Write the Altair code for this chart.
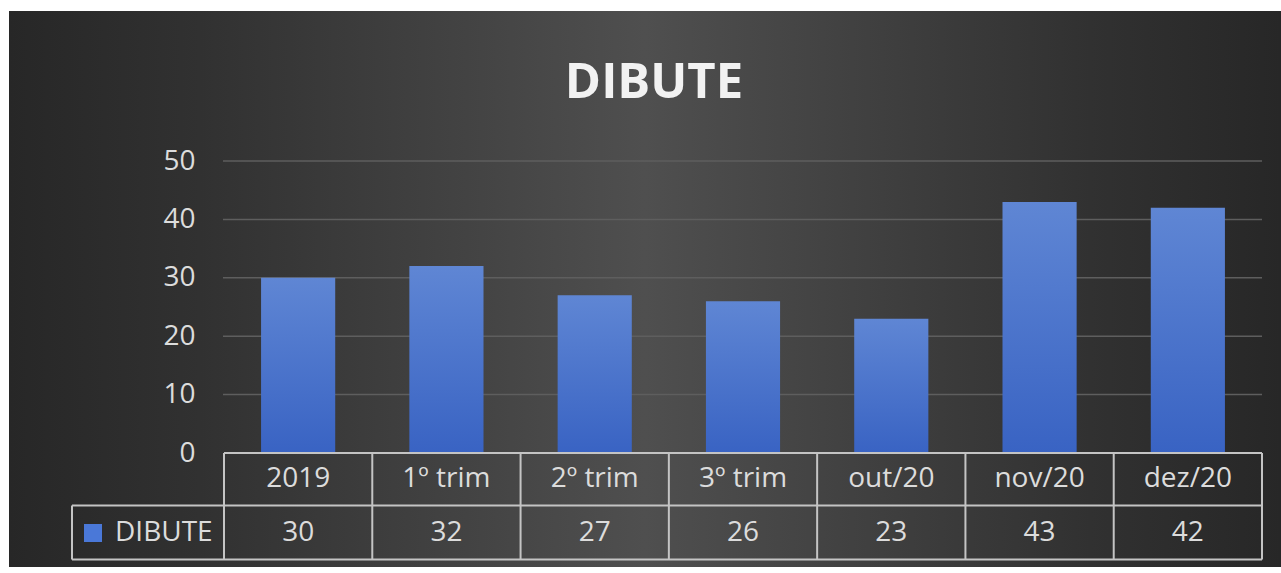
import altair as alt
import pandas as pd

# ---- data ----
categories = ["2019", "1º trim", "2º trim", "3º trim", "out/20", "nov/20", "dez/20"]
values = [30, 32, 27, 26, 23, 43, 42]
series_name = "DIBUTE"
chart_title = "DIBUTE"
y_ticks = [0, 10, 20, 30, 40, 50]

# ---- layout / style ----
W, H = 1038, 292
FONT = "Open Sans"
TEXT = "#dcdcdc"
LINE = "#c4c4c4"

df = pd.DataFrame({"cat": categories, "val": values})
grid_df = pd.DataFrame({"v": y_ticks[1:]})
one = alt.Data(values=[{"t": chart_title, "s": series_name}])

xscale = alt.Scale(domain=categories, paddingInner=0, paddingOuter=0)
yscale = alt.Scale(domain=[y_ticks[0], y_ticks[-1]], nice=False)
yaxis = alt.Axis(values=y_ticks, labelFontSize=28, labelColor=TEXT, labelFont=FONT,
                 domain=False, ticks=False, tickSize=0, grid=False, labelPadding=29,
                 title=None, zindex=1)

bg_fill = {
    "gradient": "linear", "x1": 0, "y1": 0, "x2": 1, "y2": 0,
    "stops": [
        {"offset": 0, "color": "#272727"},
        {"offset": 0.15, "color": "#313131"},
        {"offset": 0.5, "color": "#4f4f4f"},
        {"offset": 0.85, "color": "#313131"},
        {"offset": 1, "color": "#272727"},
    ],
}
bar_fill = {
    "gradient": "linear", "x1": 0, "y1": 0, "x2": 0, "y2": 1,
    "stops": [
        {"offset": 0, "color": "#5f86d4"},
        {"offset": 1, "color": "#3963c3"},
    ],
}

bg = alt.Chart(one).mark_rect(fill=bg_fill).encode(
    x=alt.value(-215), x2=alt.value(1057), y=alt.value(-150), y2=alt.value(406)
)

grid = alt.Chart(grid_df).mark_rule(color="#5e5e5e", strokeWidth=1.5).encode(
    y=alt.Y("v:Q", scale=yscale, axis=yaxis),
    x=alt.value(-1), x2=alt.value(W),
)

bars = alt.Chart(df).mark_bar(width={"band": 0.5}, fill=bar_fill).encode(
    x=alt.X("cat:N", scale=xscale, axis=None),
    y=alt.Y("val:Q", scale=yscale, axis=yaxis),
)

cat_text = alt.Chart(df).mark_text(font=FONT, fontSize=28, color=TEXT, baseline="middle").encode(
    x=alt.X("cat:N", scale=xscale, axis=None), y=alt.value(318), text="cat:N"
)
val_text = alt.Chart(df).mark_text(font=FONT, fontSize=28, color=TEXT, baseline="middle").encode(
    x=alt.X("cat:N", scale=xscale, axis=None), y=alt.value(372), text="val:Q"
)

col_lines = alt.Chart(df).mark_rule(color=LINE, strokeWidth=2).encode(
    x=alt.X("cat:N", scale=xscale, axis=None, bandPosition=0),
    y=alt.value(292), y2=alt.value(398.5),
)
right_line = alt.Chart(one).mark_rule(color=LINE, strokeWidth=2).encode(
    x=alt.value(W), y=alt.value(292), y2=alt.value(398.5)
)
left_line = alt.Chart(one).mark_rule(color=LINE, strokeWidth=2).encode(
    x=alt.value(-152), y=alt.value(344.5), y2=alt.value(398.5)
)
top_line = alt.Chart(one).mark_rule(color=LINE, strokeWidth=2).encode(
    x=alt.value(0), x2=alt.value(W), y=alt.value(292)
)
mid_line = alt.Chart(one).mark_rule(color=LINE, strokeWidth=2).encode(
    x=alt.value(-152), x2=alt.value(W), y=alt.value(344.5)
)
bot_line = alt.Chart(one).mark_rule(color=LINE, strokeWidth=2).encode(
    x=alt.value(-152), x2=alt.value(W), y=alt.value(398.5)
)

legend_sq = alt.Chart(one).mark_square(size=324, color="#4a78d8", opacity=1).encode(
    x=alt.value(-131), y=alt.value(372)
)
legend_txt = alt.Chart(one).mark_text(font=FONT, fontSize=28, color=TEXT, align="left",
                                      baseline="middle").encode(
    x=alt.value(-109), y=alt.value(372), text="s:N"
)

title = alt.Chart(one).mark_text(font=FONT, fontSize=49, fontWeight="bold", color="#f2f2f2",
                                 baseline="middle").encode(
    x=alt.value(430), y=alt.value(-78), text="t:N"
)

chart = alt.layer(
    bg, grid, bars, col_lines, right_line, left_line, top_line, mid_line, bot_line,
    cat_text, val_text, legend_sq, legend_txt, title,
).properties(
    width=W, height=H,
    padding={"left": 224, "top": 161, "right": 19, "bottom": 120},
    autosize=alt.AutoSizeParams(type="none"),
    background="white",
).configure_view(stroke=None)

chart.save("out.html", embed_options={"renderer": "svg", "actions": False})
